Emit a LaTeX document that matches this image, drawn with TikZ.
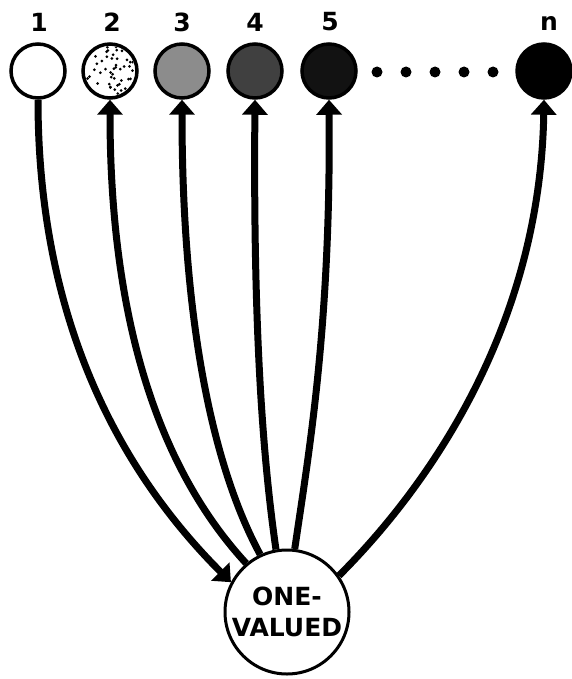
\documentclass[tikz,border=0pt]{standalone}
\usepackage{fontspec}
\setmainfont{DejaVu Sans}
\usetikzlibrary{arrows.meta}
\begin{document}
\begin{tikzpicture}[x=1pt,y=-1pt,
  state/.style={circle,draw,line width=3.5pt,minimum size=54pt,inner sep=0pt},
  num/.style={font=\bfseries\fontsize{25}{25}\selectfont,inner sep=0pt},
  dotnode/.style={circle,fill=black,minimum size=11pt,inner sep=0pt},
  link/.style={line width=7pt,-{Triangle[width=25pt,length=15pt]}},
]
\useasboundingbox (0,0) rectangle (571,679);
% top circles
\node[state,fill=white]    (c1) at (38,71) {};
\node[state,fill=white]    (c2) at (110,71) {};
\node[state,fill=black!45] (c3) at (182,71) {};
\node[state,fill=black!75] (c4) at (255,71) {};
\node[state,fill=black!93] (c5) at (329,71) {};
\node[state,fill=black]    (cn) at (544,71) {};
% stipple of circle 2
\begin{scope}
\clip (110,71) circle (25);
\pgfmathsetseed{7}
\foreach \i in {1,...,45}{
  \pgfmathsetmacro\rr{25*sqrt(rnd)}
  \pgfmathsetmacro\aa{360*rnd}
  \fill (110,71) ++(\aa:\rr) circle (1.5);
}
\end{scope}
% labels
\node[num] (l1) at (39,22) {1};
\node[num] (l2) at (112,22) {2};
\node[num] (l3) at (182,22) {3};
\node[num] (l4) at (255,22) {4};
\node[num] (l5) at (330,22) {5};
\node[num] (ln) at (549,24) {n};
% ellipsis dots
\node[dotnode] (d1) at (377,72) {};
\node[dotnode] (d2) at (406,72) {};
\node[dotnode] (d3) at (435,72) {};
\node[dotnode] (d4) at (464,72) {};
\node[dotnode] (d5) at (493,72) {};
% bottom node
\node[circle,draw,line width=3pt,minimum size=124pt,inner sep=0pt,align=center,
      font=\bfseries\fontsize{25}{31}\selectfont] (ov) at (287,612) {ONE-\\VALUED};
% connectors
\draw[link] (c1.south) .. controls +(0,229) and +(-105,-105) .. (ov.152);
\draw[link] (ov.130) .. controls +(-83,-90) and +(0,230) .. (c2.south);
\draw[link] (ov.115) .. controls +(-45,-83) and +(0,230) .. (c3.south);
\draw[link] (ov.100) .. controls +(-13,-90) and +(-2,230) .. (c4.south);
\draw[link] (ov.83) .. controls +(13,-90) and +(2,230) .. (c5.south);
\draw[link] (ov.35) .. controls +(87,-87) and +(-4,230) .. (cn.south);
\end{tikzpicture}
\end{document}
